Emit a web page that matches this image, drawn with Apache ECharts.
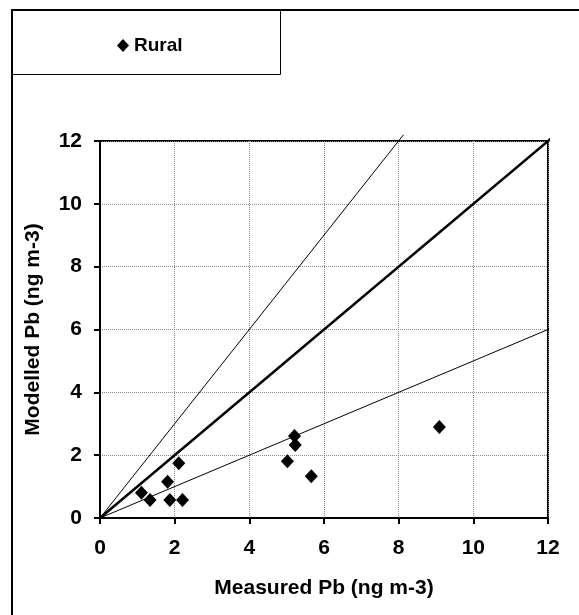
<!DOCTYPE html>
<html>
<head>
<meta charset="utf-8">
<script src="https://cdn.jsdelivr.net/npm/echarts@6/dist/echarts.min.js"></script>
<style>
  html, body { margin: 0; padding: 0; background: #fff; }
  #chart { width: 579px; height: 615px; }
</style>
</head>
<body>
<div id="chart"></div>
<script>
// Measured vs modelled lead concentrations at rural sites (ng m-3)
var seriesName = 'Rural';
var measured = [1.11, 1.34, 1.81, 1.87, 2.11, 2.21, 5.02, 5.21, 5.23, 5.66, 9.09];
var modelled = [0.80, 0.57, 1.15, 0.57, 1.74, 0.57, 1.81, 2.61, 2.32, 1.33, 2.90];

// Reference lines: 1:1 and the upper / lower envelope
var oneToOne = [[0, 0], [12.2, 12.2]];
var upperLine = [[0, 0], [8.13, 12.2]];
var lowerLine = [[0, 0], [12.2, 6.1]];

var axisTicks = [0, 2, 4, 6, 8, 10, 12];

var points = measured.map(function (m, i) { return [m, modelled[i]]; });

var font = '"Liberation Sans", Arial, sans-serif';

var chart = echarts.init(document.getElementById('chart'), null, { renderer: 'canvas' });

function refLine(data, width) {
  return {
    type: 'line',
    data: data,
    symbol: 'none',
    clip: false,
    silent: true,
    z: 3,
    lineStyle: { color: '#000', width: width, opacity: 1 },
    emphasis: { disabled: true }
  };
}

chart.setOption({
  animation: false,
  backgroundColor: '#fff',
  graphic: [
    {
      type: 'rect',
      shape: { x: 12, y: 10, width: 640, height: 660 },
      style: { fill: 'none', stroke: '#000', lineWidth: 2 },
      silent: true, z: 0
    },
    {
      type: 'rect',
      shape: { x: 12.5, y: 10.5, width: 268, height: 64 },
      style: { fill: 'none', stroke: '#000', lineWidth: 1 },
      silent: true, z: 0
    }
  ],
  legend: {
    data: [seriesName],
    left: 112,
    top: 31,
    itemWidth: 12,
    itemHeight: 13,
    itemGap: 4,
    itemStyle: { opacity: 1, color: '#000' },
    textStyle: { fontFamily: font, fontWeight: 'bold', fontSize: 19, color: '#000' }
  },
  grid: {
    left: 100,
    top: 141,
    right: 31,
    bottom: 97,
    show: true,
    borderColor: '#000',
    borderWidth: 2,
    backgroundColor: 'transparent'
  },
  xAxis: {
    type: 'value',
    min: axisTicks[0],
    max: axisTicks[axisTicks.length - 1],
    interval: 2,
    name: 'Measured Pb (ng m-3)',
    nameLocation: 'middle',
    nameGap: 60,
    nameTextStyle: { fontFamily: font, fontWeight: 'bold', fontSize: 21, color: '#000' },
    axisLine: { lineStyle: { color: '#000', width: 2 } },
    axisTick: { show: true, inside: false, length: 6, lineStyle: { color: '#000', width: 2 } },
    axisLabel: { margin: 20, fontFamily: font, fontWeight: 'bold', fontSize: 21, color: '#000' },
    splitLine: { show: true, lineStyle: { color: '#8a8a8a', width: 1, type: [1, 1] } }
  },
  yAxis: {
    type: 'value',
    min: axisTicks[0],
    max: axisTicks[axisTicks.length - 1],
    interval: 2,
    name: 'Modelled Pb (ng m-3)',
    nameLocation: 'middle',
    nameGap: 56,
    nameRotate: 90,
    nameTextStyle: { fontFamily: font, fontWeight: 'bold', fontSize: 21, color: '#000' },
    axisLine: { lineStyle: { color: '#000', width: 2 } },
    axisTick: { show: true, inside: false, length: 6, lineStyle: { color: '#000', width: 2 } },
    axisLabel: { margin: 18, fontFamily: font, fontWeight: 'bold', fontSize: 21, color: '#000' },
    splitLine: { show: true, lineStyle: { color: '#8a8a8a', width: 1, type: [1, 1] } }
  },
  series: [
    refLine(upperLine, 1),
    refLine(lowerLine, 1),
    refLine(oneToOne, 2.5),
    {
      name: seriesName,
      type: 'scatter',
      data: points,
      symbol: 'diamond',
      symbolSize: [13, 14],
      z: 5,
      itemStyle: { color: '#000', opacity: 1 },
      emphasis: { disabled: true }
    }
  ]
});
</script>
</body>
</html>
